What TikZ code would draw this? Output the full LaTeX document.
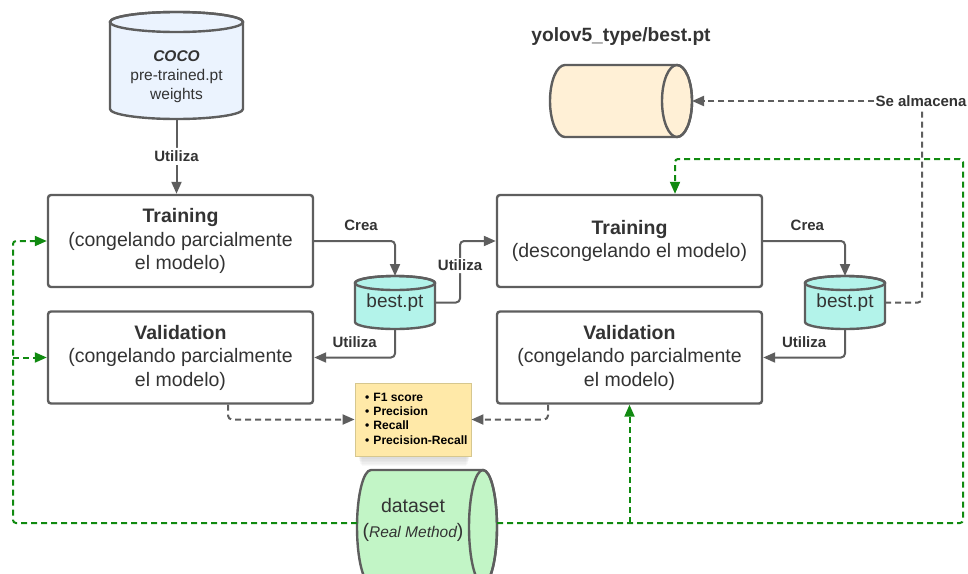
\documentclass[tikz,border=0pt]{standalone}
\usepackage{fontspec}
\setmainfont{Liberation Sans}
\usetikzlibrary{arrows.meta,calc}

\definecolor{linegray}{HTML}{5E5E5E}
\definecolor{textgray}{HTML}{333333}
\definecolor{cocoblue}{HTML}{EBF3FE}
\definecolor{bestcyan}{HTML}{B3F3EA}
\definecolor{yolocream}{HTML}{FFF0D6}
\definecolor{datagreen}{HTML}{C2F5C6}
\definecolor{notefill}{HTML}{FFE9A8}
\definecolor{noteedge}{HTML}{D6C78F}
\definecolor{flowgreen}{RGB}{16,138,16}

\begin{document}
\begin{tikzpicture}[x=1pt,y=-1pt,
  every node/.style={text=textgray},
  box/.style={draw=linegray, line width=2.4pt, rounded corners=3pt, fill=white,
    minimum width=265pt, minimum height=92pt, align=center, inner sep=0pt,
    font=\fontsize{19.5}{23.5}\selectfont},
  cyl/.style={draw=linegray, line width=2.4pt},
  area/.style={inner sep=0pt, outer sep=0pt},
  lbl/.style={font=\fontsize{15}{18}\selectfont\bfseries, inner sep=0pt},
  conn/.style={draw=linegray, line width=2pt, rounded corners=4pt,
    -{Triangle[length=12pt,width=10pt]}},
  dconn/.style={conn, dash pattern=on 6pt off 4pt},
  gconn/.style={draw=flowgreen, line width=2pt, rounded corners=3pt,
    dash pattern=on 6pt off 4pt},
  garrow/.style={gconn, -{Triangle[length=12pt,width=10pt]}},
]
\useasboundingbox (0,0) rectangle (968,573);
\clip (0,0) rectangle (968,573);

% ---------- cylinders (drawn shapes) ----------
% COCO weights
\filldraw[cyl, fill=cocoblue] (110,22) -- (110,109)
  arc[start angle=180, end angle=0, x radius=66.5, y radius=10] -- (243,22)
  arc[start angle=0, end angle=-180, x radius=66.5, y radius=10] -- cycle;
\draw[cyl] (176.5,22) ellipse[x radius=66.5, y radius=10];
\node[area, minimum width=133pt, minimum height=107pt] (coco) at (176.5,65.5) {};
\node[align=center, font=\fontsize{15.5}{19}\selectfont] (cocotext) at (176.5,77)
  {\textbf{\textit{COCO}}\\pre-trained.pt\\weights};

% best.pt (first stage)
\filldraw[cyl, fill=bestcyan] (355,283) -- (355,322)
  arc[start angle=180, end angle=0, x radius=40, y radius=7] -- (435,283)
  arc[start angle=0, end angle=-180, x radius=40, y radius=7] -- cycle;
\draw[cyl] (395,283) ellipse[x radius=40, y radius=7];
\node[area, minimum width=80pt, minimum height=53pt,
  font=\fontsize{19}{22}\selectfont] (bestA) at (395,302.5) {\raisebox{-3pt}{best.pt}};

% best.pt (second stage)
\filldraw[cyl, fill=bestcyan] (805,283) -- (805,322)
  arc[start angle=180, end angle=0, x radius=40, y radius=7] -- (885,283)
  arc[start angle=0, end angle=-180, x radius=40, y radius=7] -- cycle;
\draw[cyl] (845,283) ellipse[x radius=40, y radius=7];
\node[area, minimum width=80pt, minimum height=53pt,
  font=\fontsize{19}{22}\selectfont] (bestB) at (845,302.5) {\raisebox{-3pt}{best.pt}};

% stored model
\filldraw[cyl, fill=yolocream] (565,65) -- (677,65)
  arc[start angle=-90, end angle=90, x radius=15, y radius=36] -- (565,137)
  arc[start angle=90, end angle=270, x radius=15, y radius=36] -- cycle;
\draw[cyl] (677,101) ellipse[x radius=15, y radius=36];
\node[area, minimum width=142pt, minimum height=72pt] (yolo) at (621,101) {};
\node[font=\fontsize{19.2}{22}\selectfont\bfseries] (yolotitle) at (621,37) {yolov5\_type/best.pt};

% dataset
\filldraw[cyl, fill=datagreen] (371,470) -- (483,470)
  arc[start angle=-90, end angle=90, x radius=14, y radius=57] -- (371,584)
  arc[start angle=90, end angle=270, x radius=14, y radius=57] -- cycle;
\draw[cyl] (483,527) ellipse[x radius=14, y radius=57];
\node[area, minimum width=140pt, minimum height=106pt] (ds) at (427,523) {};
\node[align=center, font=\fontsize{19.5}{25}\selectfont] (dstext) at (413,520)
  {dataset\\({\fontsize{15.5}{18}\selectfont\itshape Real Method})};

% ---------- process boxes ----------
\node[box] (t1) at (180.5,241) {\textbf{Training}\\(congelando parcialmente\\el modelo)};
\node[box] (v1) at (180.5,357.5) {\textbf{Validation}\\(congelando parcialmente\\el modelo)};
\node[box] (t2) at (629.5,241) {\textbf{Training}\\(descongelando el modelo)};
\node[box] (v2) at (629.5,357.5) {\textbf{Validation}\\(congelando parcialmente\\el modelo)};

% ---------- metrics note ----------
\foreach \i in {1,...,6}
  \fill[black, opacity=0.022] (358+\i*0.6,456) rectangle (470-\i*0.6,458+\i*1.4);
\node[draw=noteedge, line width=0.8pt, fill=notefill, minimum width=116pt,
  minimum height=73pt, inner sep=0pt] (note) at (413,419.5) {};
\node[anchor=north west, align=left, inner sep=0pt, text=black,
  font=\fontsize{12.1}{14.4}\selectfont\bfseries] (notetext) at (365,392.5)
  {\textbullet\hspace{4pt}F1 score\\
   \textbullet\hspace{4pt}Precision\\
   \textbullet\hspace{4pt}Recall\\
   \textbullet\hspace{4pt}Precision-Recall};

% ---------- connectors ----------
\draw[conn] (coco.south) -- node[lbl, fill=white, inner sep=3pt] {Utiliza} (coco.south |- t1.north);

\draw[conn] (t1.east) -| node[lbl, pos=0.29, above=9pt] {Crea} (bestA.north);
\draw[conn] (bestA.east) -- ++(25,0) |- node[lbl, pos=0.3, fill=white, inner sep=2pt] {Utiliza} (t2.west);
\draw[conn] (bestA.south) |- node[lbl, pos=0.75, above=9pt] {Utiliza} (v1.east);

\draw[conn] (t2.east) -| node[lbl, pos=0.27, above=9pt] {Crea} (bestB.north);
\draw[conn] (bestB.south) |- node[lbl, pos=0.75, above=9pt] {Utiliza} (v2.east);

\draw[dconn] ($(v1.south)+(47.5,0)$) |- (note.west);
\draw[dconn] ($(v2.south)+(-81.5,0)$) |- (note.east);

\node[lbl, inner sep=1pt] (sa) at (921,101) {Se almacena};
\draw[draw=linegray, line width=2pt, rounded corners=4pt, dash pattern=on 6pt off 4pt]
  (bestB.east) -| ($(sa.south)+(1,3)$);
\draw[dconn] (sa.west) -- (yolo.east);

% dataset feeds every stage
\coordinate (gL) at (13,523);
\coordinate (gR) at (963,523);
\coordinate (gT) at (675,159);
\draw[garrow] (ds.west) -- (gL) |- (t1.west);
\draw[garrow] (gL |- v1.west) -- (v1.west);
\draw[garrow] (ds.east) -- (gR) |- (gT) -- (gT |- t2.north);
\draw[garrow] (ds.east -| v2.south) -- (v2.south);
\end{tikzpicture}
\end{document}
